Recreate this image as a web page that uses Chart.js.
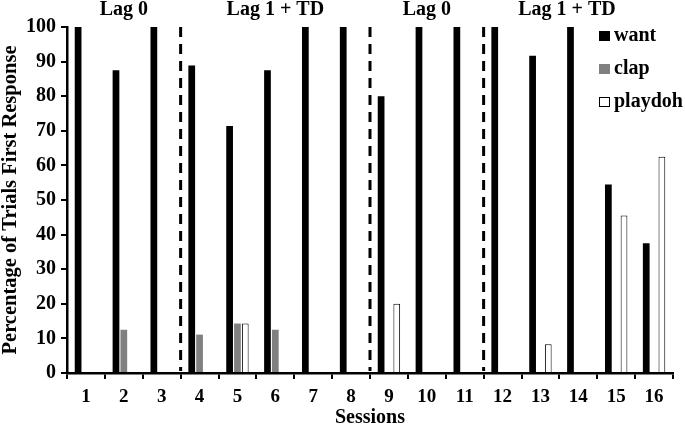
<!DOCTYPE html>
<html>
<head>
<meta charset="utf-8">
<script src="https://cdn.jsdelivr.net/npm/chart.js@4"></script>
<style>
  html, body { margin: 0; padding: 0; background: #fff; }
  #wrap { width: 685px; height: 426px; }
</style>
</head>
<body>
<div id="wrap"><canvas id="myChart"></canvas></div>
<script>
const sessions = ['1','2','3','4','5','6','7','8','9','10','11','12','13','14','15','16'];
const want    = [100, 87.5, 100, 88.9, 71.4, 87.5, 100, 100, 80, 100, 100, 100, 91.7, 100, 54.5, 37.5];
const clap    = [0, 12.5, 0, 11.1, 14.3, 12.5, 0, 0, 0, 0, 0, 0, 0, 0, 0, 0];
const playdoh = [0, 0, 0, 0, 14.3, 0, 0, 0, 20, 0, 0, 0, 8.3, 0, 45.5, 62.5];
const yTicks  = [0, 10, 20, 30, 40, 50, 60, 70, 80, 90, 100];
const yTitle  = 'Percentage of Trials First Response';

// phases: label and last session of each phase
const phaseLabels = ['Lag 0', 'Lag 1 + TD', 'Lag 0', 'Lag 1 + TD'];
const phaseEnds   = [3, 8, 11, 16];

const fontFam = '"Liberation Serif", "Times New Roman", serif';
Chart.defaults.font.family = fontFam;
Chart.defaults.font.weight = 'bold';
Chart.defaults.font.size = 19;
Chart.defaults.color = '#000';

const phasePlugin = {
    id: 'phases',
    afterDatasetsDraw(chart) {
        const ctx = chart.ctx;
        const x = chart.scales.x;
        const area = chart.chartArea;
        ctx.save();
        ctx.strokeStyle = '#000';
        ctx.lineWidth = 3;
        ctx.setLineDash([10, 7]);
        for (let i = 0; i < phaseEnds.length - 1; i++) {
            const px = x.getPixelForValue(phaseEnds[i] - 0.5);
            ctx.beginPath();
            ctx.moveTo(px, area.top);
            ctx.lineTo(px, area.bottom - 2);
            ctx.stroke();
        }
        ctx.setLineDash([]);
        ctx.font = 'bold 20px ' + fontFam;
        ctx.fillStyle = '#000';
        ctx.textAlign = 'center';
        ctx.textBaseline = 'middle';
        let start = 0;
        for (let i = 0; i < phaseLabels.length; i++) {
            let mid = (start + phaseEnds[i] - 1) / 2;
            if (i === phaseLabels.length - 1) mid -= 0.3; // keep clear of the legend
            ctx.fillText(phaseLabels[i], x.getPixelForValue(mid), 10);
            start = phaseEnds[i];
        }
        // y title
        ctx.save();
        ctx.translate(11, (area.top + area.bottom) / 2);
        ctx.rotate(-Math.PI / 2);
        ctx.font = 'bold 20.5px ' + fontFam;
        ctx.fillText(yTitle, 0, 0);
        ctx.restore();
        // legend
        ctx.textAlign = 'left';
        chart.data.datasets.forEach((ds, i) => {
            const ly = 36 + i * 33;
            ctx.fillStyle = ds.backgroundColor;
            ctx.fillRect(599, ly - 5, 11, 10);
            ctx.lineWidth = 1;
            ctx.strokeStyle = '#000';
            if (ds.backgroundColor === '#ffffff') ctx.strokeRect(599.5, ly - 4.5, 10, 9);
            ctx.fillStyle = '#000';
            ctx.fillText(ds.label, 614, ly);
        });
        ctx.restore();
    }
};

const ctx = document.getElementById('myChart').getContext('2d');
const myChart = new Chart(ctx, {
    type: 'bar',
    data: {
        labels: sessions,
        datasets: [
            { label: 'want', data: want, backgroundColor: '#000000', borderColor: '#000000', borderWidth: 0 },
            { label: 'clap', data: clap, backgroundColor: '#808080', borderColor: '#808080', borderWidth: 0 },
            { label: 'playdoh', data: playdoh, backgroundColor: '#ffffff', borderColor: '#000000', borderWidth: 1 }
        ]
    },
    options: {
        responsive: true,
        maintainAspectRatio: false,
        animation: false,
        categoryPercentage: 0.62,
        barPercentage: 0.86,
        layout: { padding: { top: 27, right: 12, left: 0, bottom: 0 } },
        plugins: {
            legend: { display: false },
            tooltip: { enabled: false }
        },
        scales: {
            x: {
                grid: { offset: true, drawOnChartArea: false, drawTicks: true, tickLength: 6, color: '#000', lineWidth: 2 },
                border: { display: true, color: '#000', width: 2.5 },
                ticks: { padding: 7, maxRotation: 0, autoSkip: false },
                title: { display: true, text: 'Sessions', font: { size: 20 }, padding: { top: 0, bottom: -4 } },
                afterFit(scale) { scale.height = 53; }
            },
            y: {
                min: 0,
                max: 100,
                afterBuildTicks(scale) { scale.ticks = yTicks.map(v => ({ value: v })); },
                grid: { drawOnChartArea: false, drawTicks: true, tickLength: 6, color: '#000', lineWidth: 2 },
                border: { display: true, color: '#000', width: 2.5 },
                ticks: { padding: 5, font: { size: 20 } },
                afterFit(scale) { scale.width = 67; }
            }
        }
    },
    plugins: [phasePlugin]
});
</script>
</body>
</html>
